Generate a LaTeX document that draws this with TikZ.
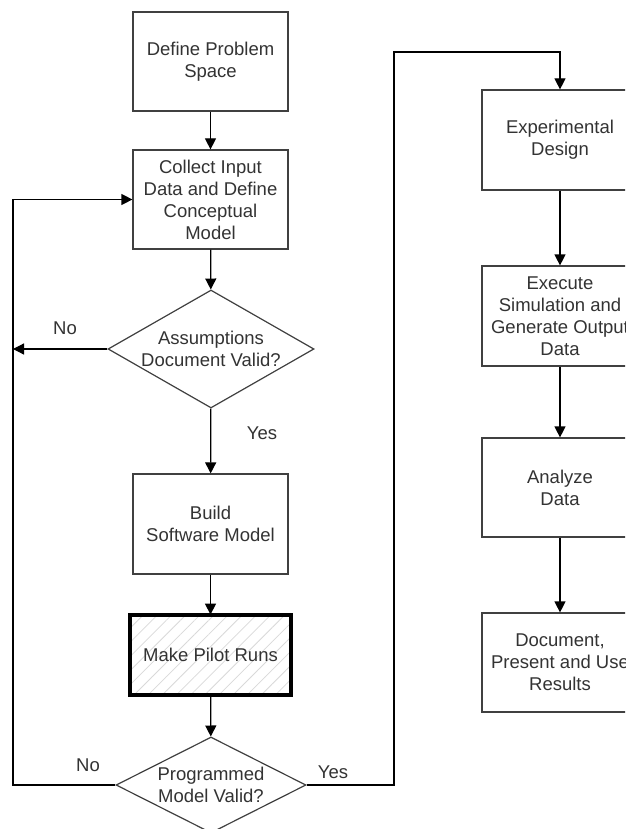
\documentclass[tikz,border=0pt]{standalone}
\usepackage{fontspec}
\setmainfont{Liberation Sans}
\usetikzlibrary{shapes.geometric,arrows.meta,patterns.meta}
\begin{document}
\begin{tikzpicture}[x=1pt,y=1pt,
  font=\fontsize{18.5}{22}\selectfont,
  stepbox/.style={draw=black!75, line width=1.2pt, minimum width=155pt, minimum height=99pt, align=center, text=black!80, inner sep=2pt},
  dec/.style={diamond, draw=black!75, line width=1.2pt, inner sep=0pt},
  conn/.style={draw=black, line width=1.2pt, -{Triangle[length=11pt,width=11pt]}},
  lbl/.style={text=black!80, align=center, inner sep=0pt}]
\useasboundingbox (0,0) rectangle (625,-829);
\clip (0,0) rectangle (625,-829);
\fill[white] (0,0) rectangle (625,-829);

% left column
\node[stepbox] (dps) at (210.5,-61.5) {Define Problem\\Space};
\node[stepbox] (cid) at (210.5,-199.5) {Collect Input\\Data and Define\\Conceptual\\Model};
\node[dec, minimum width=206pt, minimum height=118pt] (d1) at (211,-349) {};
\node[lbl] (d1t) at (d1) {Assumptions\\Document Valid?};
\node[stepbox, minimum height=100pt] (bsm) at (210.5,-524) {Build\\Software Model};
\node[stepbox, draw=black, line width=4.5pt, minimum width=161pt, minimum height=80pt,
      pattern={Lines[angle=45,distance=10pt,line width=0.8pt]}, pattern color=black!15] (mpr) at (210.5,-655) {};
\node[lbl] (mprt) at (mpr) {Make Pilot Runs};
\node[dec, minimum width=190pt, minimum height=96pt] (d2) at (211,-785) {};
\node[lbl] (d2t) at (d2) {Programmed\\Model Valid?};

% right column
\node[stepbox, minimum width=156pt, minimum height=100pt] (exp) at (560,-140) {Experimental\\Design};
\node[stepbox, minimum width=156pt, minimum height=100pt] (exe) at (560,-316) {Execute\\Simulation and\\Generate Output\\Data};
\node[stepbox, minimum width=156pt, minimum height=99pt] (ana) at (560,-487.5) {Analyze\\Data};
\node[stepbox, minimum width=156pt, minimum height=99pt] (doc) at (560,-662.5) {Document,\\Present and Use\\Results};

% helper coordinates
\coordinate (n1) at (13,-349);
\coordinate (lb) at (13,-785);
\coordinate (rb) at (394,-785);
\coordinate (rt) at (394,-52);

% connectors
\draw[conn] (dps) -- (cid);
\draw[conn] (cid) -- (d1);
\draw[conn] (d1.west) -- (n1);
\draw[conn] (d1) -- (bsm);
\draw[conn] (bsm) -- (mpr);
\draw[conn] (mpr) -- (d2);
\draw[conn] (d2.west) -- (lb) |- (cid.west);
\draw[conn] (d2.east) -- (rb) -- (rt) -| (exp.north);
\draw[conn] (exp) -- (exe);
\draw[conn] (exe) -- (ana);
\draw[conn] (ana) -- (doc);

% labels
\node[lbl] (no1) at (65,-328) {No};
\node[lbl] (yes1) at (262,-433) {Yes};
\node[lbl] (no2) at (88,-765) {No};
\node[lbl] (yes2) at (333,-772) {Yes};
\end{tikzpicture}
\end{document}
